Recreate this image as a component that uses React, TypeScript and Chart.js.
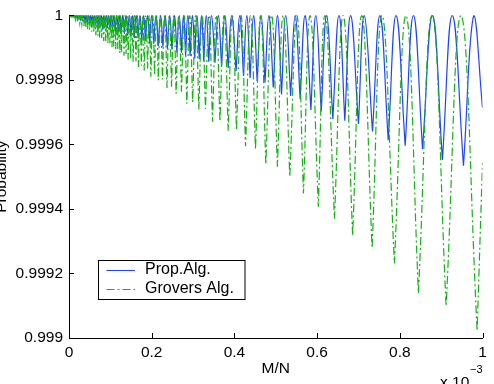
import React, { useEffect, useRef } from 'react';
import { Chart, registerables } from 'chart.js';

Chart.register(...registerables);

const FONT = "'Liberation Sans', Arial, Helvetica, sans-serif";

const xTickValues = [0, 0.2, 0.4, 0.6, 0.8, 1];
const xTickLabels = ['0', '0.2', '0.4', '0.6', '0.8', '1'];
const yTickValues = [0.999, 0.9992, 0.9994, 0.9996, 0.9998, 1];
const yTickLabels = ['0.999', '0.9992', '0.9994', '0.9996', '0.9998', '1'];
const seriesLabels = ['Prop.Alg.', 'Grovers Alg.'];
const seriesColors = ['#1f44ff', '#12b412'];

// M/N in units of 1e-3 ; probability values
const propCuspX = [
  0.004, 0.008, 0.012, 0.015, 0.020, 0.024, 0.028, 0.032, 0.037, 0.041,
  0.045, 0.050, 0.055, 0.060, 0.065, 0.070, 0.075, 0.081, 0.087, 0.093,
  0.099, 0.105, 0.112, 0.119, 0.126, 0.134, 0.142, 0.150, 0.158, 0.167,
  0.176, 0.185, 0.195, 0.205, 0.216, 0.227, 0.238, 0.249, 0.261, 0.272,
  0.282, 0.293, 0.304, 0.315, 0.326, 0.338, 0.353, 0.369, 0.385, 0.404,
  0.422, 0.438, 0.455, 0.474, 0.494, 0.514, 0.536, 0.559, 0.585, 0.610,
  0.638, 0.667, 0.700, 0.734, 0.772, 0.813, 0.855, 0.903, 0.954,
];
const propCuspP = [
  0.999998, 0.9999965, 0.999995, 0.9999935, 0.9999915, 0.99999, 0.9999875, 0.9999865, 0.9999835, 0.999983,
  0.99998, 0.999979, 0.999975, 0.999974, 0.999971, 0.99997, 0.999966, 0.999966, 0.999961, 0.99996,
  0.999956, 0.999955, 0.99995, 0.999949, 0.999944, 0.999943, 0.999937, 0.999936, 0.99993, 0.999929,
  0.999922, 0.999921, 0.999913, 0.999912, 0.999904, 0.999903, 0.999895, 0.999894, 0.999885, 0.999884,
  0.999875, 0.999874, 0.999866, 0.999865, 0.999857, 0.999856, 0.999853, 0.999843, 0.999837, 0.999827,
  0.999812, 0.999806, 0.999796, 0.999791, 0.999776, 0.999755, 0.99975, 0.99974, 0.999707, 0.999702,
  0.999679, 0.999673, 0.999663, 0.99964, 0.999613, 0.999596, 0.999585, 0.999552, 0.999534,
];
const propPeakX = [
  0.006, 0.010, 0.0135, 0.0175, 0.022, 0.026, 0.030, 0.0345, 0.039, 0.043,
  0.0475, 0.0525, 0.0575, 0.0625, 0.0675, 0.0725, 0.078, 0.084, 0.090, 0.096,
  0.102, 0.1085, 0.1155, 0.1225, 0.130, 0.138, 0.146, 0.154, 0.1625, 0.1715,
  0.1805, 0.190, 0.200, 0.2105, 0.2215, 0.2325, 0.2435, 0.255, 0.2665, 0.277,
  0.2875, 0.2985, 0.3095, 0.3205, 0.332, 0.3445, 0.361, 0.377, 0.3935, 0.413,
  0.430, 0.4465, 0.4645, 0.4835, 0.504, 0.524, 0.547, 0.571, 0.597, 0.623,
  0.653, 0.681, 0.714, 0.752, 0.791, 0.833, 0.879, 0.927, 0.979,
];
const propEnd = [1, 0.999714];

const groverCuspX = [
  0.007, 0.012, 0.016, 0.021, 0.026, 0.031, 0.036, 0.041, 0.045, 0.050,
  0.055, 0.060, 0.065, 0.070, 0.074, 0.079, 0.084, 0.089, 0.094, 0.099,
  0.104, 0.108, 0.113, 0.118, 0.123, 0.127, 0.133, 0.138, 0.143, 0.149,
  0.155, 0.162, 0.168, 0.175, 0.182, 0.190, 0.198, 0.207, 0.216, 0.226,
  0.237, 0.248, 0.259, 0.272, 0.285, 0.299, 0.314, 0.330, 0.347, 0.365,
  0.385, 0.405, 0.427, 0.451, 0.476, 0.504, 0.534, 0.567, 0.603, 0.642,
  0.686, 0.733, 0.787, 0.845, 0.912, 0.987,
];
const groverCuspP = [
  0.999994, 0.999989, 0.999985, 0.999981, 0.999975, 0.999972, 0.999967, 0.999964, 0.999957, 0.999955,
  0.999949, 0.999947, 0.999938, 0.999937, 0.999931, 0.99993, 0.99992, 0.99992, 0.999913, 0.999913,
  0.999901, 0.999903, 0.999895, 0.999896, 0.999883, 0.999887, 0.999875, 0.99988, 0.999863, 0.999866,
  0.999856, 0.999857, 0.99984, 0.999844, 0.999829, 0.999835, 0.99981, 0.999814, 0.999799, 0.999801,
  0.999775, 0.999779, 0.999757, 0.999763, 0.999726, 0.999731, 0.999708, 0.99971, 0.99967, 0.999671,
  0.999642, 0.999644, 0.999594, 0.999585, 0.999538, 0.999531, 0.9995, 0.999448, 0.999407, 0.99937,
  0.999318, 0.999278, 0.999231, 0.999139, 0.999099, 0.999022,
];
const groverPeakX = [
  0.0095, 0.014, 0.0185, 0.0235, 0.0285, 0.0335, 0.0385, 0.043, 0.0475, 0.0525,
  0.0575, 0.0625, 0.0675, 0.072, 0.0765, 0.0815, 0.0865, 0.0915, 0.0965, 0.1015,
  0.106, 0.1105, 0.1155, 0.1205, 0.125, 0.130, 0.1355, 0.1405, 0.146, 0.152,
  0.1585, 0.165, 0.1715, 0.1785, 0.186, 0.194, 0.2025, 0.2115, 0.221, 0.2315,
  0.2425, 0.2535, 0.2655, 0.2785, 0.292, 0.3065, 0.322, 0.3385, 0.356, 0.375,
  0.395, 0.416, 0.439, 0.4635, 0.490, 0.518, 0.551, 0.583, 0.619, 0.663,
  0.708, 0.757, 0.815, 0.878, 0.948,
];
const groverEnd = [1, 0.999543];

const PEAK_P = 1;

function buildCurve(cx: number[], cp: number[], px: number[], end: number[]) {
  const pts: { x: number; y: number }[] = [{ x: 0, y: PEAK_P }];
  const n = Math.min(cx.length, cp.length);
  for (let i = 0; i < n; i++) {
    // the dip is given twice so the spline keeps it as a sharp cusp
    pts.push({ x: cx[i], y: cp[i] });
    pts.push({ x: cx[i], y: cp[i] });
    if (i < px.length) pts.push({ x: px[i], y: PEAK_P });
  }
  pts.push({ x: end[0], y: end[1] });
  return pts;
}

const GROVER_DASH = [8, 3, 2, 3];

const bgPlugin = {
  id: 'bg',
  beforeDraw(chart: any) {
    const c = chart.ctx;
    c.save();
    c.fillStyle = '#ffffff';
    c.fillRect(0, 0, chart.width, chart.height);
    c.restore();
  },
};

const innerTicksPlugin = {
  id: 'innerTicks',
  afterDraw(chart: any) {
    const c = chart.ctx;
    const { left, bottom } = chart.chartArea;
    const xs = chart.scales.x;
    const ys = chart.scales.y;
    c.save();
    c.strokeStyle = '#000';
    c.lineWidth = 1;
    c.beginPath();
    xTickValues.forEach((v) => {
      const px = Math.round(xs.getPixelForValue(v)) + 0.5;
      c.moveTo(px, bottom);
      c.lineTo(px, bottom - 5);
    });
    yTickValues.forEach((v) => {
      const py = Math.round(ys.getPixelForValue(v)) + 0.5;
      c.moveTo(left, py);
      c.lineTo(left + 5, py);
    });
    c.stroke();
    c.restore();
  },
};

const legendPlugin = {
  id: 'customLegend',
  afterDraw(chart: any) {
    const c = chart.ctx;
    const bx = 98.5, by = 260.5, bw = 146.5, bh = 39;
    c.save();
    c.fillStyle = '#fff';
    c.fillRect(bx, by, bw, bh);
    c.strokeStyle = '#000';
    c.lineWidth = 1;
    c.strokeRect(bx, by, bw, bh);
    const rows = [270.5, 289.5];
    chart.data.datasets.forEach((ds: any, i: number) => {
      const y = rows[i];
      c.beginPath();
      c.strokeStyle = ds.borderColor;
      c.lineWidth = 1;
      c.setLineDash(ds.borderDash || []);
      c.moveTo(106.5, y);
      c.lineTo(135, y);
      c.stroke();
      c.setLineDash([]);
      c.fillStyle = '#000';
      c.font = `16px ${FONT}`;
      c.textAlign = 'left';
      c.textBaseline = 'middle';
      c.fillText(ds.label, 145, y - 1);
    });
    c.restore();
  },
};

const exponentPlugin = {
  id: 'exponent',
  afterDraw(chart: any) {
    const c = chart.ctx;
    c.save();
    c.fillStyle = '#000';
    c.textAlign = 'left';
    c.textBaseline = 'alphabetic';
    c.font = `15.5px ${FONT}`;
    c.fillText('x 10', 440, 387);
    c.font = `11px ${FONT}`;
    c.fillText('\u22123', 470, 373);
    c.restore();
  },
};

export default function App() {
  const ref = useRef<HTMLCanvasElement | null>(null);

  useEffect(() => {
    if (!ref.current) return;
    const chart = new Chart(ref.current, {
      type: 'line',
      data: {
        datasets: [
          {
            label: seriesLabels[0],
            data: buildCurve(propCuspX, propCuspP, propPeakX, propEnd),
            borderColor: seriesColors[0],
            borderWidth: 1.2,
            pointRadius: 0,
            fill: false,
            tension: 0.45,
            order: 1,
          },
          {
            label: seriesLabels[1],
            data: buildCurve(groverCuspX, groverCuspP, groverPeakX, groverEnd),
            borderColor: seriesColors[1],
            borderWidth: 1.2,
            borderDash: GROVER_DASH,
            pointRadius: 0,
            fill: false,
            tension: 0.45,
            order: 0,
          },
        ],
      },
      options: {
        animation: false,
        responsive: false,
        events: [],
        layout: { padding: { left: 0, top: 14, right: 11.5, bottom: 0 } },
        plugins: {
          legend: { display: false },
          tooltip: { enabled: false },
        },
        scales: {
          x: {
            type: 'linear',
            min: 0,
            max: 1,
            afterBuildTicks: (s: any) => {
              s.ticks = xTickValues.map((v) => ({ value: v }));
            },
            afterFit: (s: any) => {
              s.height = 46;
            },
            ticks: {
              autoSkip: false,
              maxRotation: 0,
              padding: 5,
              color: '#000',
              font: { family: FONT, size: 15.5 },
              callback: (_v: any, i: number) => xTickLabels[i],
            },
            grid: { display: false, drawTicks: false },
            border: { display: true, color: '#000', width: 1 },
            title: {
              display: true,
              text: 'M/N',
              color: '#000',
              font: { family: FONT, size: 15.5 },
              padding: { top: 0, bottom: 5.7 },
            },
          },
          y: {
            type: 'linear',
            min: 0.999,
            max: 1,
            afterBuildTicks: (s: any) => {
              s.ticks = yTickValues.map((v) => ({ value: v }));
            },
            afterFit: (s: any) => {
              s.width = 69;
            },
            ticks: {
              autoSkip: false,
              padding: 6,
              color: '#000',
              font: { family: FONT, size: 15.5 },
              callback: (_v: any, i: number) => yTickLabels[i],
            },
            grid: { display: false, drawTicks: false },
            border: { display: true, color: '#000', width: 1 },
            title: {
              display: true,
              text: 'Probability',
              color: '#000',
              font: { family: FONT, size: 15.5 },
              padding: { top: -8, bottom: 0 },
            },
          },
        },
      } as any,
      plugins: [bgPlugin, innerTicksPlugin, legendPlugin, exponentPlugin],
    });
    return () => chart.destroy();
  }, []);

  return (
    <div style={{ position: 'fixed', left: 0, top: 0, width: 494, height: 384, background: '#fff' }}>
      <canvas ref={ref} width={494} height={384} style={{ display: 'block', width: 494, height: 384 }} />
    </div>
  );
}
